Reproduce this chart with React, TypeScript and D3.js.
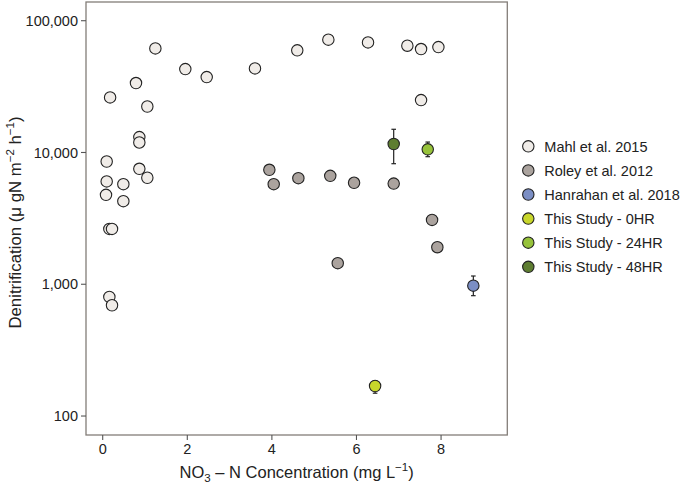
import React from "react";
import * as d3 from "d3";

// Mahl et al. 2015
const mahlX = [0.175, 1.245, 0.787, 1.055, 1.953, 2.459, 3.60, 0.866, 0.866, 0.094, 0.094, 0.078, 0.488, 0.488, 0.866, 1.055, 0.157, 0.22, 0.157, 0.22, 4.60, 5.335, 6.273, 7.203, 7.527, 7.937, 7.527];
const mahlY = [26160, 61650, 33650, 22340, 42970, 37330, 43430, 13090, 11910, 8540, 6030, 4770, 5750, 4270, 7520, 6430, 2630, 2630, 802, 693, 59570, 71770, 68400, 64600, 60960, 63100, 24990];

// Roley et al. 2012
const roleyX = [3.94, 4.043, 4.626, 5.38, 5.943, 6.88, 7.787, 7.912, 5.557];
const roleyY = [7390, 5750, 6385, 6650, 5890, 5810, 3080, 1910, 1445];

// Hanrahan et al. 2018
const hanX = [8.763];
const hanY = [975];
const hanLo = [819];
const hanHi = [1155];

// This study
const s0X = [6.44];
const s0Y = [169];
const s0Lo = [149];
const s0Hi = [185];
const s24X = [7.685];
const s24Y = [10570];
const s24Lo = [9290];
const s24Hi = [12000];
const s48X = [6.88];
const s48Y = [11600];
const s48Lo = [8220];
const s48Hi = [15000];

const legendLabels = ["Mahl et al. 2015", "Roley et al. 2012", "Hanrahan et al. 2018", "This Study - 0HR", "This Study - 24HR", "This Study - 48HR"];
const legendColors = ["#F0ECE8", "#ABA39E", "#7B8EC4", "#C8D62B", "#96C23A", "#5E7D31"];

const xTicks = [0, 2, 4, 6, 8];
const yTicks = [100, 1000, 10000, 100000];

export default function App() {
  const W = 685, H = 483;
  const L = 86, R = 507.3, T = 2, B = 435;
  const x = d3.scaleLinear().domain([-0.395, 9.566]).range([L, R]);
  const y = d3.scaleLog().domain([Math.pow(10, 1.856), Math.pow(10, 5.142)]).range([B, T]);
  const fmt = d3.format(",");
  const font = "'Liberation Sans', Arial, Helvetica, sans-serif";
  const stroke = "#222";
  const r = 5.7;

  const series = [
    { xs: mahlX, ys: mahlY, c: legendColors[0] },
    { xs: roleyX, ys: roleyY, c: legendColors[1] },
    { xs: hanX, ys: hanY, c: legendColors[2], lo: hanLo, hi: hanHi },
    { xs: s0X, ys: s0Y, c: legendColors[3], lo: s0Lo, hi: s0Hi },
    { xs: s24X, ys: s24Y, c: legendColors[4], lo: s24Lo, hi: s24Hi },
    { xs: s48X, ys: s48Y, c: legendColors[5], lo: s48Lo, hi: s48Hi },
  ];

  return (
    <svg width={W} height={H} style={{ position: "absolute", left: 0, top: 0 }} fontFamily={font}>
      <rect x={0} y={0} width={W} height={H} fill="#fff" />
      {/* panel border */}
      <rect x={L} y={T} width={R - L} height={B - T} fill="none" stroke="#837d78" strokeWidth={1.3} />
      {/* y axis ticks */}
      {yTicks.map((t) => (
        <g key={t}>
          <line x1={L - 5} x2={L} y1={y(t)} y2={y(t)} stroke="#555" strokeWidth={1.1} />
          <text x={L - 8} y={y(t)} dy="0.35em" textAnchor="end" fontSize={14.5} fill="#222">{fmt(t)}</text>
        </g>
      ))}
      {/* x axis ticks */}
      {xTicks.map((t) => (
        <g key={t}>
          <line x1={x(t)} x2={x(t)} y1={B} y2={B + 5} stroke="#555" strokeWidth={1.1} />
          <text x={x(t)} y={453.5} textAnchor="middle" fontSize={14.5} fill="#222">{t}</text>
        </g>
      ))}
      {/* axis titles */}
      <text x={(L + R) / 2} y={478} textAnchor="middle" fontSize={16.5} fill="#222">
        NO<tspan fontSize={11.5} dy={4}>3</tspan><tspan dy={-4}> – N Concentration (mg L</tspan><tspan fontSize={11.5} dy={-7}>−1</tspan><tspan dy={7}>)</tspan>
      </text>
      <text transform={`translate(21,${(T + B) / 2 + 4}) rotate(-90)`} textAnchor="middle" fontSize={16.8} fill="#222">
        Denitrification (μ gN m<tspan fontSize={11.5} dy={-7}>−2</tspan><tspan dy={7}> h</tspan><tspan fontSize={11.5} dy={-7}>−1</tspan><tspan dy={7}>)</tspan>
      </text>
      {/* error bars */}
      {series.filter((s) => s.lo).map((s, si) => (
        <g key={"e" + si}>
          {s.xs.map((xv, i) => (
            <g key={i}>
              <line x1={x(xv)} x2={x(xv)} y1={y(s.lo![i])} y2={y(s.hi![i])} stroke={stroke} strokeWidth={1.2} />
              <line x1={x(xv) - 2.3} x2={x(xv) + 2.3} y1={y(s.lo![i])} y2={y(s.lo![i])} stroke={stroke} strokeWidth={1.2} />
              <line x1={x(xv) - 2.3} x2={x(xv) + 2.3} y1={y(s.hi![i])} y2={y(s.hi![i])} stroke={stroke} strokeWidth={1.2} />
            </g>
          ))}
        </g>
      ))}
      {/* points */}
      {series.map((s, si) => (
        <g key={"p" + si}>
          {s.xs.map((xv, i) => (
            <circle key={i} cx={x(xv)} cy={y(s.ys[i])} r={r} fill={s.c} stroke={stroke} strokeWidth={1.1} />
          ))}
        </g>
      ))}
      {/* legend */}
      {legendLabels.map((lab, i) => (
        <g key={lab} transform={`translate(528.3,${146.3 + i * 24.1})`}>
          <circle r={r} fill={legendColors[i]} stroke={stroke} strokeWidth={1.1} />
          <text x={16} dy="0.36em" fontSize={14.5} fill="#222">{lab}</text>
        </g>
      ))}
    </svg>
  );
}
